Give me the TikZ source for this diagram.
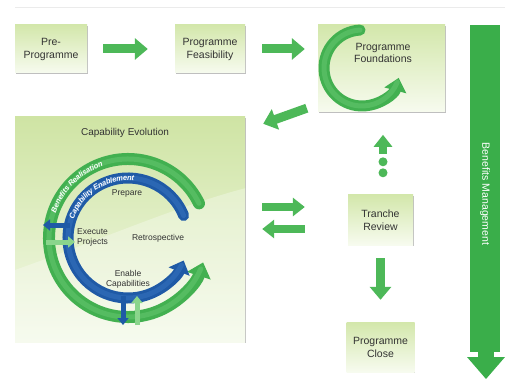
\documentclass[tikz,border=0pt]{standalone}
\usepackage{fontspec}
\setmainfont{Liberation Sans}
\usetikzlibrary{arrows.meta,shadows,decorations.text,calc}
\definecolor{boxtop}{HTML}{D3E7AB}
\definecolor{boxbot}{HTML}{F7FBEF}
\definecolor{captop}{HTML}{CFE4A4}
\definecolor{capbot}{HTML}{F3F9E8}
\definecolor{agreen}{HTML}{4DB858}
\definecolor{ringgreen}{HTML}{42B050}
\definecolor{ringgreenhi}{HTML}{6DCB76}
\definecolor{ringblue}{HTML}{1F5AA6}
\definecolor{ringbluehi}{HTML}{3A78C4}
\definecolor{lgreen}{HTML}{8AD58C}
\definecolor{bmgreen}{HTML}{3AAE4A}
\definecolor{txt}{HTML}{333333}
\begin{document}
\begin{tikzpicture}[x=1pt,y=1pt,
  stagebox/.style={rectangle, top color=boxtop, bottom color=boxbot, draw=none,
    drop shadow={shadow xshift=0.8pt,shadow yshift=-1.3pt,fill=black!45,opacity=0.55},
    font=\fontsize{10.5}{13}\selectfont, text=txt, align=center, inner sep=0pt},
  fat/.style={line width=9pt, draw=agreen, -{Triangle[width=21pt,length=13pt]}},
  midfat/.style={line width=8pt, draw=agreen, -{Triangle[width=18pt,length=12pt]}},
  inlabel/.style={font=\fontsize{8.5}{10}\selectfont, text=txt, align=center, inner sep=0pt},
  smallarrow/.style={line width=5pt, -{Triangle[width=11pt,length=7pt]}},
  ringhi/.style={line width=5pt, line cap=round, opacity=0.45},
]
\useasboundingbox (0,0) rectangle (505,-379);
\fill[white] (0,0) rectangle (505,-379);
\draw[black!8, line width=0.6pt] (15,-7) -- (505,-7);

% stage boxes
\node[stagebox, minimum width=72pt, minimum height=48pt] (pre) at (51,-49) {Pre-\\Programme};
\node[stagebox, minimum width=70pt, minimum height=48pt] (feas) at (210,-49) {Programme\\Feasibility};
\node[stagebox, minimum width=127pt, minimum height=87pt] (found) at (381.5,-68.5) {};
\node[stagebox, minimum width=65pt, minimum height=50pt] (tr) at (380.5,-220) {Tranche\\Review};
\node[stagebox, minimum width=68pt, minimum height=50pt] (close) at (380.5,-347) {Programme\\Close};

% foundations cycle
\coordinate (fc) at (362,-68);
\draw[ringgreen, line width=11pt, line cap=round, -{Triangle[width=22pt,length=13pt]}]
  ($(fc)+(93:38)$) arc[start angle=93, end angle=345, radius=38];
\draw[ringhi, ringgreenhi]
  ($(fc)+(93:38)$) arc[start angle=93, end angle=338, radius=38];
\node[inlabel, font=\fontsize{10.5}{12}\selectfont] (foundlbl) at (383,-53) {Programme\\Foundations};

% capability evolution box
\node[rectangle, top color=captop, bottom color=capbot, draw=none, inner sep=0pt,
  minimum width=230pt, minimum height=225pt,
  drop shadow={shadow xshift=0.8pt,shadow yshift=-1.3pt,fill=black!45,opacity=0.55}] (cap) at (130,-229.5) {};
\begin{scope}
  \clip (cap.south west) rectangle (cap.north east);
  \fill[white, opacity=0.3] (15,-270) .. controls (100,-240) and (180,-205) .. (246,-188)
    -- (246,-343) -- (14,-343) -- cycle;
\end{scope}
\node[font=\fontsize{10}{12}\selectfont, text=txt] (captitle) at (125,-133) {Capability Evolution};

\coordinate (c) at (128,-238);
\draw[ringgreen, line width=12pt, line cap=round, -{Triangle[width=24pt,length=14pt]}]
  ($(c)+(26:79)$) arc[start angle=26, end angle=342, radius=79];
\draw[ringhi, ringgreenhi]
  ($(c)+(26:79)$) arc[start angle=26, end angle=337, radius=79];
\draw[ringblue, line width=11pt, line cap=round, -{Triangle[width=22pt,length=12pt]}]
  ($(c)+(22:60)$) arc[start angle=22, end angle=338, radius=60];
\draw[ringhi, ringbluehi]
  ($(c)+(22:60)$) arc[start angle=22, end angle=333, radius=60];

\path[postaction={decorate, decoration={text along path, text align=center, raise=-2.6pt,
   text={|\fontsize{7.5}{8}\selectfont\bfseries\itshape\color{white}|Benefits Realisation}}}]
  ($(c)+(165:79)$) arc[start angle=165, end angle=105, radius=79];
\path[postaction={decorate, decoration={text along path, text align=center, raise=-2.6pt,
   text={|\fontsize{7.5}{8}\selectfont\bfseries\itshape\color{white}|Capability Enablement}}}]
  ($(c)+(165:60)$) arc[start angle=165, end angle=80, radius=60];

\draw[smallarrow, ringblue] (70,-225) -- (43,-225);
\draw[smallarrow, lgreen] (46,-242) -- (75,-242);
\draw[smallarrow, ringblue] (123,-296) -- (123,-325);
\draw[smallarrow, lgreen] (137,-325) -- (137,-296);

\node[inlabel] (prep) at (127,-193) {Prepare};
\node[inlabel, align=left, anchor=west] (exec) at (77,-237) {Execute\\Projects};
\node[inlabel] (retro) at (158,-238) {Retrospective};
\node[inlabel] (enab) at (128,-279) {Enable\\Capabilities};

% benefits management
\fill[bmgreen] (470,-25) rectangle (500,-352);
\fill[bmgreen] (478,-351) rectangle (494,-358);
\fill[bmgreen] (467,-357) -- (505,-357) -- (486,-379) -- cycle;
\node[rotate=-90, text=white, font=\fontsize{10.5}{12}\selectfont] (bmtext) at (485,-194) {Benefits Management};

% connectors
\draw[fat] ([xshift=16pt]pre.east) -- ([xshift=-27pt]feas.west);
\draw[fat] ([xshift=17pt]feas.east) -- ($(feas.east -| found.west)+(-13,0)$);
\coordinate (d1) at ($(found.south west)+(-11,4)$);
\coordinate (d2) at ($(cap.north east)+(18,-7)$);
\draw[fat] (d1) -- (d2);
\draw[midfat] ($(cap.east)+(17,22.5)$) -- ($(tr.west)+(-43,13)$);
\draw[midfat] ($(tr.west)+(-43,-9)$) -- ($(cap.east)+(17,0.5)$);
\draw[fat] ($(tr.south)+(0,-13)$) -- ($(close.north)+(0,22)$);
\fill[agreen] ($(tr.north)+(2.5,22)$) circle[radius=4.5];
\fill[agreen] ($(tr.north)+(2.5,33)$) circle[radius=4.5];
\draw[midfat] ($(tr.north)+(2.5,41)$) -- ($(tr.north)+(2.5,60)$);
\end{tikzpicture}
\end{document}
